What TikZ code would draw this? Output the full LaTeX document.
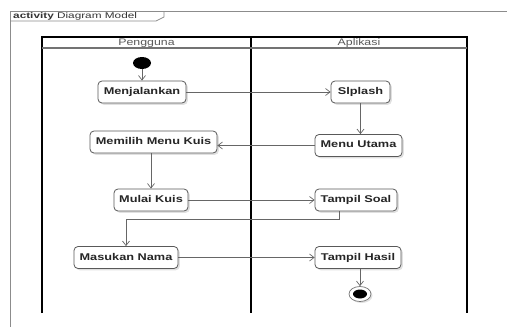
\documentclass[tikz,border=0pt]{standalone}
\usepackage{fontspec}
\setmainfont{Liberation Sans}
\usetikzlibrary{arrows.meta,shadows,shapes.geometric}
\newcommand{\stx}[2][1.3]{\scalebox{#1}[1]{#2}}
\newcommand{\btx}[1]{\raisebox{2pt}{\scalebox{1.3}[1]{#1}}}
\begin{document}
\begin{tikzpicture}[x=1pt,y=-1pt,
  act/.style={draw=black!65, line width=0.8pt, rounded corners=4pt, fill=white,
    drop shadow={shadow xshift=1.8pt,shadow yshift=-1.8pt,fill=black!30,opacity=0.4},
    inner sep=0pt, minimum height=22pt, text=black!85,
    font=\bfseries\fontsize{9.8}{10}\selectfont},
  flow/.style={draw=black!60, line width=0.7pt, -{Straight Barb[length=4.5pt,width=7pt]}},
  lane/.style={line width=1.3pt, draw=black},
  frameline/.style={draw=black!45, line width=0.8pt},
  lanetitle/.style={text=black!65, font=\fontsize{9.5}{10}\selectfont, inner sep=0pt},
  startnode/.style={ellipse, fill=black, minimum width=18pt, minimum height=12pt, inner sep=0pt},
  endouter/.style={ellipse, draw=black!55, line width=0.7pt, fill=white, minimum width=22pt, minimum height=15pt, inner sep=0pt,
    drop shadow={shadow xshift=1.5pt,shadow yshift=-1.5pt,fill=black!30,opacity=0.4}},
  endinner/.style={ellipse, fill=black, minimum width=14pt, minimum height=9pt, inner sep=0pt}
]
\useasboundingbox (0,0) rectangle (507,327);
% outer frame
\draw[frameline] (10,327) -- (10,11) -- (507,11);
\draw[frameline] (10,21) -- (156,21) -- (164,17) -- (164,11);
\node[anchor=west, inner sep=0pt, font=\fontsize{8.3}{9}\selectfont, text=black!80] (title) at (13,16)
  {\stx[1.42]{\textbf{activity} Diagram Model}};
% swimlanes
\draw[lane] (42,313) -- (42,37) -- (467,37) -- (467,313);
\draw[lane] (251,37) -- (251,313);
\draw[draw=black!55, line width=1.2pt] (42,48) -- (467,48);
\node[lanetitle] (l1) at (146.5,43) {\stx{Pengguna}};
\node[lanetitle] (l2) at (359,43) {\stx{Aplikasi}};
% nodes
\node[startnode] (init) at (142,63) {};
\node[act, minimum width=88pt] (mj) at (142,92) {\btx{Menjalankan}};
\node[act, minimum width=59pt] (sl) at (360.5,92) {\btx{Slplash}};
\node[act, minimum width=127pt] (mm) at (153.5,142) {\btx{Memilih Menu Kuis}};
\node[act, minimum width=87pt] (mu) at (358.5,145.5) {\btx{Menu Utama}};
\node[act, minimum width=74pt] (mk) at (151,200) {\btx{Mulai Kuis}};
\node[act, minimum width=82pt] (ts) at (356,200) {\btx{Tampil Soal}};
\node[act, minimum width=104pt] (mn) at (126,257.5) {\btx{Masukan Nama}};
\node[act, minimum width=86pt] (th) at (358,257.5) {\btx{Tampil Hasil}};
\node[endouter] (fin) at (360,294) {};
\node[endinner] (fini) at (fin.center) {};
% flows
\draw[flow] (init) -- (mj);
\draw[flow] (mj.east) -- (sl.west);
\draw[flow] (sl.south) -- (sl.south |- mu.north);
\draw[flow] (mu.west) -- (mu.west -| mm.east);
\draw[flow] (mk.north |- mm.south) -- (mk.north);
\draw[flow] (mk.east) -- (ts.west);
\coordinate (bend) at (339,219);
\draw[flow] (ts.south -| bend) -- (bend) -| (mn.north);
\draw[flow] (mn.east) -- (th.west);
\draw[flow] (th.south -| fin.north) -- (fin.north);
\end{tikzpicture}
\end{document}
